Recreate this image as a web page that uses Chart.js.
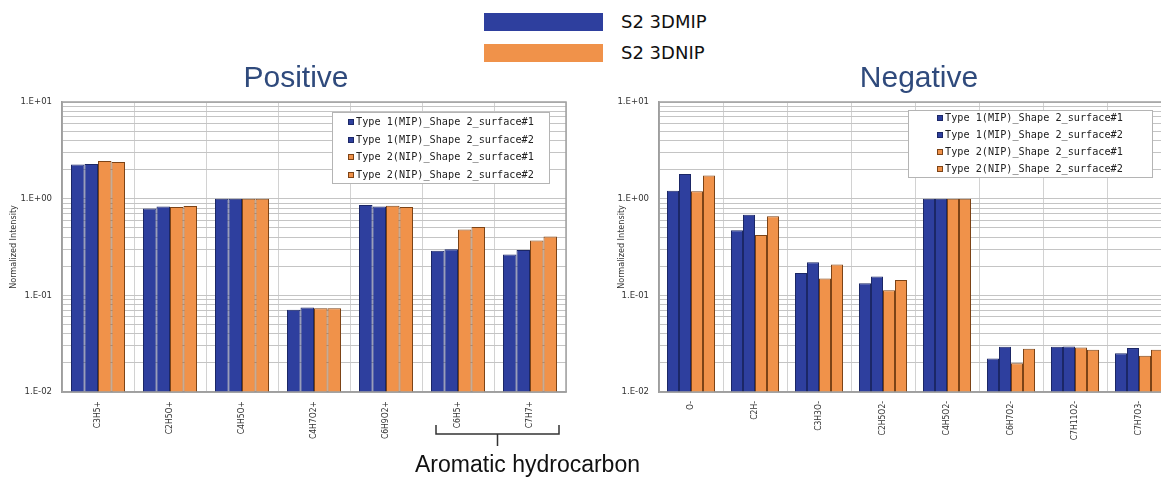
<!DOCTYPE html>
<html>
<head>
<meta charset="utf-8">
<script src="https://cdn.jsdelivr.net/npm/chart.js@4.4.1/dist/chart.umd.min.js"></script>
<style>
html, body { margin: 0; padding: 0; background: #fff; overflow: hidden; }
#wrap { position: relative; width: 1161px; height: 479px; overflow: hidden; }
#posBox { position: absolute; left: 0; top: 0; }
#negBox { position: absolute; left: 608px; top: 0; }
.swatch { position: absolute; left: 484px; width: 119px; height: 18px; }
.keytext { position: absolute; left: 621px; font: 18px "DejaVu Sans", sans-serif; color: #111; line-height: 18px; }
</style>
</head>
<body>
<div id="wrap">
	<div class="swatch" id="sw0" style="top:13px"></div>
	<div class="keytext" id="kt0" style="top:13px"></div>
	<div class="swatch" id="sw1" style="top:44px"></div>
	<div class="keytext" id="kt1" style="top:44px"></div>
	<div id="posBox"><canvas id="posChart" width="660" height="479"></canvas></div>
	<div id="negBox"><canvas id="negChart" width="622" height="479"></canvas></div>
</div>
<script>
// values (normalized intensity, log axis)
const posCategories = ["C3H5+", "C2H5O+", "C4H5O+", "C4H7O2+", "C6H9O2+", "C6H5+", "C7H7+"];
const posMip1 = [2.25, 0.79, 1.0, 0.071, 0.86, 0.29, 0.265];
const posMip2 = [2.28, 0.83, 1.0, 0.075, 0.83, 0.30, 0.295];
const posNip1 = [2.46, 0.82, 1.0, 0.0735, 0.845, 0.48, 0.37];
const posNip2 = [2.40, 0.84, 1.0, 0.0735, 0.82, 0.51, 0.405];

const negCategories = ["O-", "C2H-", "C3H3O-", "C2H5O2-", "C4H5O2-", "C6H7O2-", "C7H11O2-", "C7H7O3-"];
const negMip1 = [1.21, 0.47, 0.17, 0.133, 1.0, 0.0222, 0.0293, 0.0252];
const negMip2 = [1.80, 0.68, 0.22, 0.157, 1.0, 0.0293, 0.0296, 0.0285];
const negNip1 = [1.19, 0.42, 0.149, 0.113, 1.0, 0.0198, 0.0288, 0.0237];
const negNip2 = [1.74, 0.657, 0.209, 0.144, 1.0, 0.028, 0.0273, 0.0273];

const seriesLabels = [
	"Type 1(MIP)_Shape 2_surface#1"
	, "Type 1(MIP)_Shape 2_surface#2"
	, "Type 2(NIP)_Shape 2_surface#1"
	, "Type 2(NIP)_Shape 2_surface#2"
];
const groupLabels = ["S2 3DMIP", "S2 3DNIP"];
const decadeValues = [0.01, 0.1, 1, 10];
const decadeLabels = ["1.E-02", "1.E-01", "1.E+00", "1.E+01"];
const axisTitle = "Normalized Intensity";
const bracketLabel = "Aromatic hydrocarbon";
const bracketCategories = ["C6H5+", "C7H7+"];

const BLUE = "#2e3f9e", BLUE_EDGE = "#1b2766";
const ORANGE = "#f0924a", ORANGE_EDGE = "#7c4316";
const SMALL_FONT = "'DejaVu Sans Condensed', 'DejaVu Sans', sans-serif";

document.getElementById("sw0").style.background = BLUE;
document.getElementById("sw1").style.background = ORANGE;
document.getElementById("kt0").textContent = groupLabels[0];
document.getElementById("kt1").textContent = groupLabels[1];

function makeDatasets(series) {
	return series.map((data, i) => ({
		label: seriesLabels[i]
		, data: data
		, backgroundColor: i < 2 ? BLUE : ORANGE
		, borderColor: i < 2 ? BLUE_EDGE : ORANGE_EDGE
		, borderWidth: 1
		, categoryPercentage: 0.75
		, barPercentage: 1.0
	}));
}

// big blue heading, placed off-centre like the original slide
const heading = {
	id: "heading"
	, afterDraw(chart, args, opts) {
		const { ctx } = chart;
		ctx.save();
		ctx.fillStyle = "#2f4a7c";
		ctx.font = "30px 'Liberation Sans', Arial, sans-serif";
		ctx.textAlign = "center";
		ctx.textBaseline = "alphabetic";
		ctx.fillText(opts.text, opts.x, opts.y);
		ctx.restore();
	}
};

// grey frame round the plot area
const frame = {
	id: "frame"
	, afterDatasetsDraw(chart) {
		const { ctx, chartArea: a } = chart;
		ctx.save();
		ctx.strokeStyle = "#a0a0a0";
		ctx.lineWidth = 1.5;
		ctx.strokeRect(a.left, a.top, a.right - a.left, a.bottom - a.top);
		ctx.restore();
	}
};

// boxed legend sitting inside the plot, top right
const innerLegend = {
	id: "innerLegend"
	, afterDatasetsDraw(chart, args, opts) {
		const { ctx, chartArea } = chart;
		const x = chartArea.right - opts.gapRight - opts.width;
		const y = chartArea.top + opts.gapTop;
		ctx.save();
		ctx.fillStyle = "#fff";
		ctx.fillRect(x, y, opts.width, opts.height);
		ctx.strokeStyle = "#b4b4b4";
		ctx.lineWidth = 1;
		ctx.strokeRect(x + 0.5, y + 0.5, opts.width, opts.height);
		ctx.font = "10.2px 'DejaVu Sans Mono', monospace";
		ctx.textBaseline = "middle";
		chart.data.datasets.forEach((ds, i) => {
			const cy = Math.round(y + opts.firstRow + i * opts.rowStep);
			const mx = x + opts.padLeft;
			ctx.fillStyle = ds.backgroundColor;
			ctx.fillRect(mx, cy - 3, 6, 6);
			ctx.strokeStyle = ds.borderColor;
			ctx.strokeRect(mx + 0.5, cy - 2.5, 5, 5);
			ctx.fillStyle = "#222";
			ctx.fillText(ds.label, mx + 8, cy);
		});
		ctx.restore();
	}
};

// bracket under the aromatic categories
const bracket = {
	id: "bracket"
	, afterDraw(chart, args, opts) {
		if (!opts.categories) return;
		const { ctx, chartArea } = chart;
		const xs = chart.scales.x;
		const labels = xs.getLabels();
		const left = xs.getPixelForValue(labels.indexOf(opts.categories[0])) - 22;
		const right = xs.getPixelForValue(labels.indexOf(opts.categories[1])) + 29;
		const mid = (left + right) / 2;
		const b = chartArea.bottom;
		ctx.save();
		ctx.strokeStyle = "#333";
		ctx.lineWidth = 1.5;
		ctx.beginPath();
		ctx.moveTo(left, b + 33);
		ctx.lineTo(left, b + 42);
		ctx.lineTo(right, b + 42);
		ctx.lineTo(right, b + 33);
		ctx.moveTo(mid, b + 42);
		ctx.lineTo(mid, b + 54);
		ctx.stroke();
		ctx.fillStyle = "#111";
		ctx.font = "23px 'Liberation Sans', Arial, sans-serif";
		ctx.textAlign = "center";
		ctx.textBaseline = "alphabetic";
		ctx.fillText(opts.label, mid + 30, b + 80);
		ctx.restore();
	}
};

function makeChart(canvasId, title, categories, series, layout) {
	return new Chart(document.getElementById(canvasId), {
		type: "bar"
		, data: {
			labels: categories
			, datasets: makeDatasets(series)
		}
		, plugins: [heading, frame, innerLegend, bracket]
		, options: {
			responsive: false
			, animation: false
			, layout: { padding: { left: 0, right: layout.padRight, top: 102, bottom: 0 } }
			, plugins: {
				legend: { display: false }
				, tooltip: { enabled: false }
				, title: { display: false }
				, heading: { text: title, x: layout.titleX, y: 87 }
				, innerLegend: layout.legend
				, bracket: layout.bracket || {}
			}
			, scales: {
				x: {
					afterFit: s => { s.height = 87; }
					, ticks: {
						minRotation: 90
						, maxRotation: 90
						, autoSkip: false
						, padding: 9
						, color: "#333"
						, font: { family: SMALL_FONT, size: 8.5 }
					}
					, grid: { color: "#d2d2d2", drawTicks: false, offset: true }
					, border: { color: "#9a9a9a", width: 1.5 }
				}
				, y: {
					type: "logarithmic"
					, min: 0.01
					, max: 10
					, afterFit: s => { s.width = layout.axisWidth; }
					, afterBuildTicks: s => {
						const ticks = [];
						decadeValues.forEach((d, k) => {
							ticks.push({ value: d });
							if (k < decadeValues.length - 1) {
								for (let m = 2; m <= 9; m++) ticks.push({ value: d * m });
							}
						});
						s.ticks = ticks;
					}
					, ticks: {
						autoSkip: false
						, padding: 10
						, color: "#333"
						, font: { family: SMALL_FONT, size: 9.5 }
						, callback: value => {
							const k = decadeValues.indexOf(value);
							return k >= 0 ? decadeLabels[k] : "";
						}
					}
					, grid: { color: "#c4c4c4", drawTicks: false }
					, border: { color: "#9a9a9a", width: 1.5 }
					, title: {
						display: true
						, text: axisTitle
						, color: "#333"
						, font: { family: SMALL_FONT, size: 9 }
						, padding: { top: 8, bottom: 0 }
					}
				}
			}
		}
	});
}

makeChart("posChart", "Positive", posCategories, [posMip1, posMip2, posNip1, posNip2], {
	padRight: 94
	, axisWidth: 62
	, titleX: 296
	, legend: { gapRight: 17, gapTop: 10, width: 217, height: 71, padLeft: 16, firstRow: 10, rowStep: 17.5 }
	, bracket: { categories: bracketCategories, label: bracketLabel }
});

makeChart("negChart", "Negative", negCategories, [negMip1, negMip2, negNip1, negNip2], {
	padRight: 59
	, axisWidth: 51
	, titleX: 311
	, legend: { gapRight: 19, gapTop: 8, width: 244, height: 67, padLeft: 29, firstRow: 8, rowStep: 17 }
});
</script>
</body>
</html>
